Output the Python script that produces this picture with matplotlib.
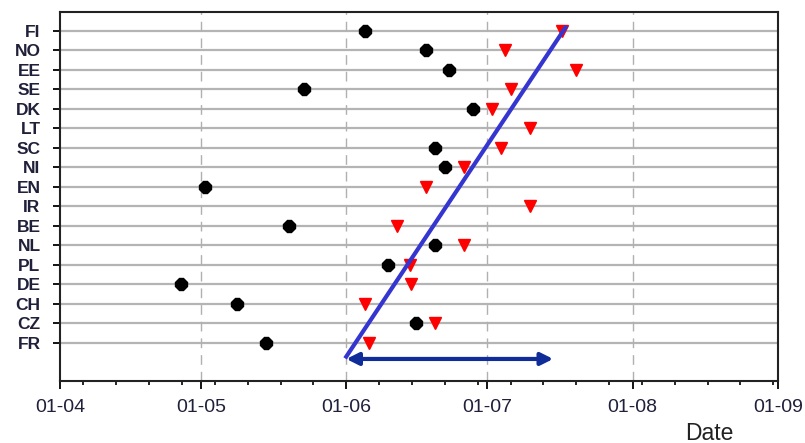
import numpy as np
import matplotlib
matplotlib.use("Agg")
import matplotlib.pyplot as plt

plt.rcParams["font.family"] = ["Liberation Sans", "DejaVu Sans"]

# x = days since 1 April
countries = ["FR", "CZ", "CH", "DE", "PL", "NL", "BE", "IR", "EN",
             "NI", "SC", "LT", "DK", "SE", "EE", "NO", "FI"]
black_day = [43.9, 75.9, 37.8, 25.8, 69.9, 80.0, 48.9, np.nan, 30.9,
             82.0, 80.0, np.nan, 88.0, 51.9, 82.9, 78.0, 65.0]
red_day = [65.9, 80.0, 65.0, 74.8, 74.6, 86.0, 71.9, 100.1, 78.0,
           86.0, 94.0, 100.1, 92.0, 96.0, 110.0, 94.9, 107.0]
trend_x = [61.0, 107.7]
trend_y = [-0.70, 16.17]
arrow_x = [61.0, 105.1]
arrow_y = -0.82
month_pos = [0, 30, 61, 91, 122, 153]
month_lbl = ["01-04", "01-05", "01-06", "01-07", "01-08", "01-09"]

fig = plt.figure(figsize=(8.05, 4.43), dpi=100)
ax = fig.add_axes([60 / 805, 1 - 381 / 443, 718 / 805, 369 / 443])
yy = np.arange(len(countries))

for y in yy:
    ax.axhline(y, color="#b4b4b4", lw=1.6, zorder=0)
for m in month_pos[1:-1]:
    ax.axvline(m, color="#b0b0b0", lw=1.0, ls=(0, (7, 5)), zorder=0)

ax.plot(black_day, yy, ls="none", marker="8", ms=9, color="black", zorder=3)
ax.plot(red_day, yy, ls="none", marker="v", ms=9, color="#ff0000", zorder=3)
ax.plot(trend_x, trend_y, color="#3535d0", lw=3, zorder=4)
ax.annotate("", xy=(arrow_x[0], arrow_y), xytext=(arrow_x[1], arrow_y),
            arrowprops=dict(arrowstyle="<|-|>", color="#0f2c99", lw=3,
                            mutation_scale=18, shrinkA=0, shrinkB=0), zorder=4)

ax.set_xlim(0, 153)
ax.set_ylim(-1.95, 16.97)
ax.set_xticks(month_pos)
ax.set_xticklabels(month_lbl, fontsize=14, color="#20203a")
ax.set_xticks(np.arange(5, 153, 7), minor=True)
ax.set_yticks(yy)
ax.set_yticklabels(countries, fontsize=12.5, fontweight="bold", color="#20203a")
ax.tick_params(axis="x", which="major", length=6, width=1.3, pad=7)
ax.tick_params(axis="x", which="minor", length=3, width=1.2)
ax.tick_params(axis="y", length=5, width=1.3, pad=9)
for s in ax.spines.values():
    s.set_linewidth(1.5)
    s.set_color("#222222")

fig.text(709 / 805, 1 - 433 / 443, "Date", fontsize=16.5, ha="center", va="center",
         color="#222222")
fig.savefig("out.png", dpi=100)
